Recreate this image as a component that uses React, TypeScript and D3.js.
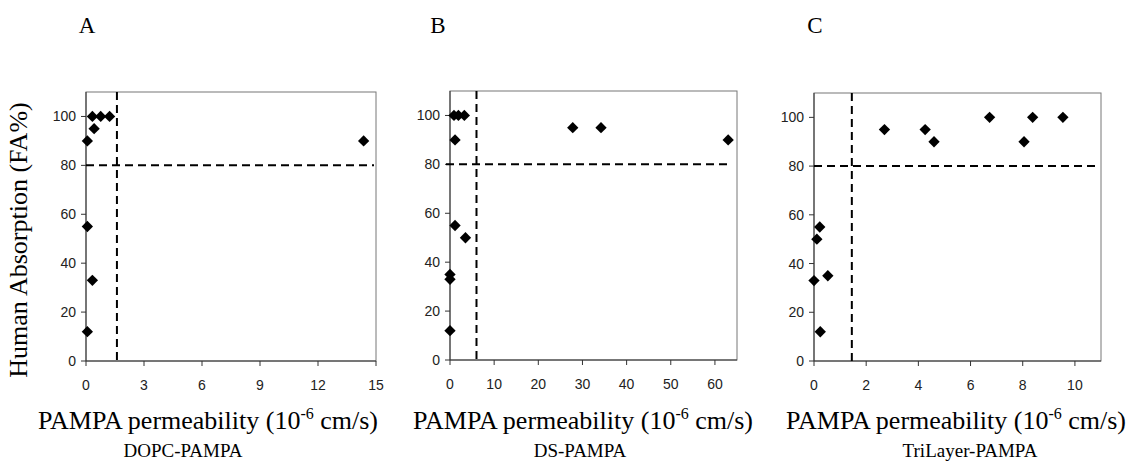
import React from "react";
import * as d3 from "d3";

const panelLetters = ["A", "B", "C"];
const subtitles = ["DOPC-PAMPA", "DS-PAMPA", "TriLayer-PAMPA"];

const aX = [0.07, 0.07, 0.07, 0.33, 0.42, 0.33, 0.76, 1.22, 14.36];
const aY = [90, 55, 12, 33, 95, 100, 100, 100, 90];
const bX = [0, 0, 0, 1.14, 1.14, 0.9, 1.9, 3.25, 3.5, 27.8, 34.2, 63];
const bY = [12, 33, 35, 55, 90, 100, 100, 100, 50, 95, 95, 90];
const cX = [0, 0.11, 0.22, 0.24, 0.53, 2.7, 4.26, 4.6, 6.73, 8.05, 8.38, 9.54];
const cY = [33, 50, 55, 12, 35, 95, 95, 90, 100, 90, 100, 100];

const xMax = [15, 65, 11];
const xTicks = [
  [0, 3, 6, 9, 12, 15],
  [0, 10, 20, 30, 40, 50, 60],
  [0, 2, 4, 6, 8, 10],
];
const yTicks = [0, 20, 40, 60, 80, 100];
const xCut = [1.6, 6, 1.45];
const yCut = 80;

const seriesX = [aX, bX, cX];
const seriesY = [aY, bY, cY];

// layout
const panels = [
  { left: 86, right: 376, top: 92, bottom: 361, letterX: 87, titleX: 208, subX: 183, hStart: 0, hEnd: 2 },
  { left: 450, right: 737, top: 91, bottom: 360, letterX: 438, titleX: 583, subX: 580, hStart: -4, hEnd: 9 },
  { left: 814, right: 1101, top: 93, bottom: 361, letterX: 815, titleX: 956, subX: 970, hStart: 0, hEnd: 4 },
];

const diamond = d3.symbol().type(d3.symbolSquare).size(64)();
const serif = "'Liberation Serif', 'Times New Roman', serif";
const sans = "'Liberation Sans', Arial, sans-serif";

function Panel({ i }: { i: number }) {
  const p = panels[i];
  const x = d3.scaleLinear().domain([0, xMax[i]]).range([p.left, p.right]);
  const y = d3.scaleLinear().domain([0, 110]).range([p.bottom, p.top]);
  const xs = seriesX[i];
  const ys = seriesY[i];
  return (
    <g>
      <text x={p.letterX} y={33} fontFamily={serif} fontSize={23} textAnchor="middle" fill="#000">
        {panelLetters[i]}
      </text>
      <rect x={p.left} y={p.top} width={p.right - p.left} height={p.bottom - p.top} fill="none" stroke="#777" strokeWidth={1} />
      <line x1={p.left} x2={p.left} y1={p.top} y2={p.bottom} stroke="#333" />
      <line x1={p.left} x2={p.right} y1={p.bottom} y2={p.bottom} stroke="#333" />
      {yTicks.map((t) => (
        <g key={"y" + t}>
          <line x1={p.left - 5} x2={p.left} y1={y(t)} y2={y(t)} stroke="#333" />
          <text x={p.left - 10} y={y(t)} dy="0.36em" textAnchor="end" fontFamily={sans} fontSize={14} fill="#222">
            {t}
          </text>
        </g>
      ))}
      {xTicks[i].map((t) => (
        <g key={"x" + t}>
          <line x1={x(t)} x2={x(t)} y1={p.bottom} y2={p.bottom + 5} stroke="#333" />
          <text x={x(t)} y={p.bottom + 29} textAnchor="middle" fontFamily={sans} fontSize={14} fill="#222">
            {t}
          </text>
        </g>
      ))}
      <line x1={p.left + p.hStart} x2={p.right - p.hEnd} y1={y(yCut)} y2={y(yCut)} stroke="#000" strokeWidth={2} strokeDasharray="8,5" />
      <line x1={x(xCut[i])} x2={x(xCut[i])} y1={p.top} y2={p.bottom} stroke="#000" strokeWidth={2} strokeDasharray="8,5" />
      {xs.map((v, k) => (
        <path key={k} d={diamond} transform={`translate(${x(v)},${y(ys[k])}) rotate(45)`} fill="#000" />
      ))}
      <text x={p.titleX} y={429} textAnchor="middle" fontFamily={serif} fontSize={26} fill="#000">
        PAMPA permeability (10
        <tspan dy={-10} fontSize={16}>-6</tspan>
        <tspan dy={10}> cm/s)</tspan>
      </text>
      <text x={p.subX} y={457} textAnchor="middle" fontFamily={serif} fontSize={19} fill="#000">
        {subtitles[i]}
      </text>
    </g>
  );
}

export default function App() {
  return (
    <svg width={1134} height={469} style={{ position: "absolute", left: 0, top: 0, background: "#fff" }}>
      <rect width={1134} height={469} fill="#fff" />
      <text transform="translate(27,240) rotate(-90)" textAnchor="middle" fontFamily={serif} fontSize={26} fill="#000">
        Human Absorption (FA%)
      </text>
      {[0, 1, 2].map((i) => (
        <Panel key={i} i={i} />
      ))}
    </svg>
  );
}
